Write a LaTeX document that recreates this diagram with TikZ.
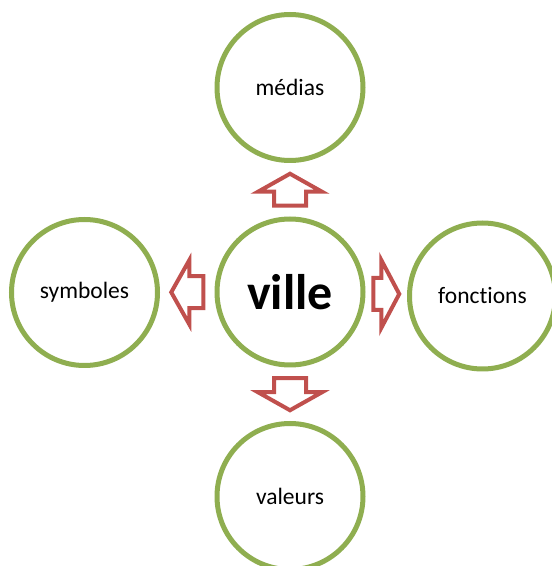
\documentclass[tikz,border=0pt]{standalone}
\usepackage{fontspec}
\setmainfont{Carlito}[Ligatures=NoCommon]
\usetikzlibrary{calc}
\definecolor{ringgreen}{RGB}{143,174,80}
\definecolor{arrowred}{RGB}{192,80,77}
\tikzset{
  theme/.style={circle, draw=ringgreen, line width=5pt, fill=white, minimum size=146pt, inner sep=0pt, font=\fontsize{23.5}{28}\selectfont},
  blockarrow/.style={draw=arrowred, line width=4pt, line join=miter, fill=white}
}
\begin{document}
\begin{tikzpicture}[x=1pt,y=1pt]
\useasboundingbox (0,0) rectangle (552,566);
\node[theme, font=\fontsize{50}{60}\selectfont\bfseries] (ville) at (290,274) {ville};
\node[theme] (medias) at (290,478.5) {médias};
\node[theme] (symboles) at (84.5,273.5) {symboles};
\node[theme] (fonctions) at (482.5,270) {fonctions};
\node[theme] (valeurs) at (290,69.5) {valeurs};
\foreach \ang/\tgt/\len/\head in {90/medias/16/32, 180/symboles/16/32, 0/fonctions/13/34, 270/valeurs/16/32} % one block arrow per theme
\draw[blockarrow, shift={($(ville)!0.5!(\tgt)$)}, rotate=\ang] (-\len,-16) -- (\len-18,-16) -- (\len-18,-\head) -- (\len,0) -- (\len-18,\head) -- (\len-18,16) -- (-\len,16) -- cycle;
\end{tikzpicture}
\end{document}
